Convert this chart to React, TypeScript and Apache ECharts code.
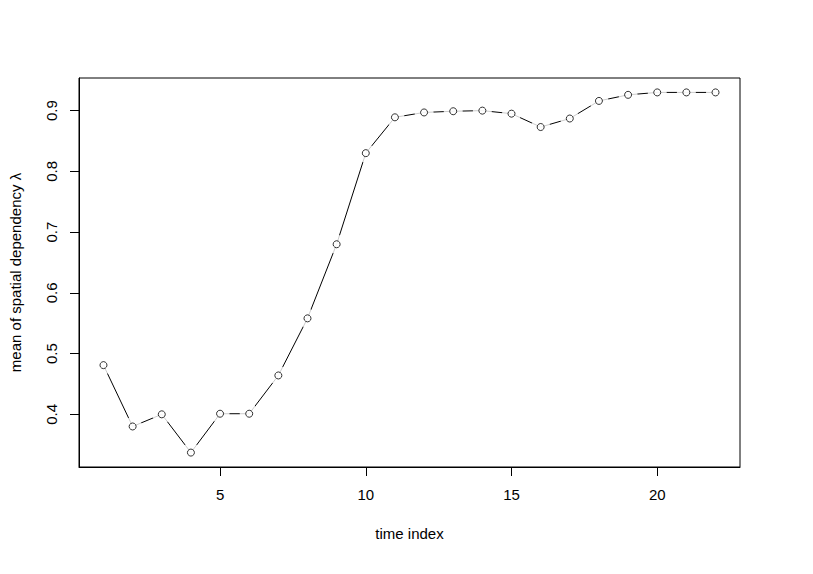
import React, { useEffect, useRef } from "react";
import * as echarts from "echarts";

const timeIndex = [1, 2, 3, 4, 5, 6, 7, 8, 9, 10, 11, 12, 13, 14, 15, 16, 17, 18, 19, 20, 21, 22];
const lambdaMean = [0.481, 0.380, 0.400, 0.337, 0.401, 0.401, 0.464, 0.558, 0.680, 0.830, 0.889, 0.897, 0.899, 0.900, 0.895, 0.873, 0.887, 0.916, 0.926, 0.930, 0.930, 0.930];
const xTicks = [5, 10, 15, 20];
const yTicks = [0.4, 0.5, 0.6, 0.7, 0.8, 0.9];

const FONT = "'Liberation Sans', Arial, sans-serif";

export default function App() {
  const ref = useRef<HTMLDivElement>(null);
  useEffect(() => {
    if (!ref.current) return;
    const chart = echarts.init(ref.current, null, { renderer: "svg" });
    const pts = timeIndex.map((t, i) => [t, lambdaMean[i]]);
    const xr = timeIndex[timeIndex.length - 1] - timeIndex[0];
    const ymin = Math.min(...lambdaMean);
    const ymax = Math.max(...lambdaMean);
    const yr = ymax - ymin;
    chart.setOption({
      animation: false,
      backgroundColor: "#ffffff",
      grid: {
        left: 78,
        right: 73,
        top: 78,
        bottom: 107,
        show: true,
        borderColor: "#000",
        borderWidth: 1,
        backgroundColor: "transparent",
      },
      xAxis: {
        type: "value",
        min: timeIndex[0] - 0.04 * xr,
        max: timeIndex[timeIndex.length - 1] + 0.04 * xr,
        name: "time index",
        nameLocation: "middle",
        nameGap: 59,
        nameTextStyle: { fontFamily: FONT, fontSize: 15, color: "#000", verticalAlign: "top" },
        axisLine: { show: true, onZero: false, lineStyle: { color: "#000", width: 1 } },
        axisTick: { show: true, length: 9, customValues: xTicks, lineStyle: { color: "#000", width: 1 } },
        axisLabel: { show: true, customValues: xTicks, margin: 20, fontFamily: FONT, fontSize: 15, color: "#000" },
        splitLine: { show: false },
      },
      yAxis: {
        type: "value",
        min: ymin - 0.04 * yr,
        max: ymax + 0.04 * yr,
        name: "mean of spatial dependency λ",
        nameLocation: "middle",
        nameGap: 56,
        nameRotate: 90,
        nameTextStyle: { fontFamily: FONT, fontSize: 15, color: "#000" },
        axisLine: { show: true, onZero: false, lineStyle: { color: "#000", width: 1 } },
        axisTick: { show: true, length: 9, customValues: yTicks, lineStyle: { color: "#000", width: 1 } },
        axisLabel: {
          show: true,
          customValues: yTicks,
          rotate: 90,
          margin: 20,
          fontFamily: FONT,
          fontSize: 15,
          color: "#000",
          formatter: (v: number) => v.toFixed(1),
        },
        splitLine: { show: false },
      },
      series: [
        {
          type: "line",
          data: pts,
          showSymbol: false,
          symbol: "none",
          lineStyle: { color: "#000", width: 1 },
          z: 2,
        },
        {
          type: "scatter",
          data: pts,
          symbol: "circle",
          symbolSize: 19,
          itemStyle: { color: "#fff", borderWidth: 0 },
          z: 3,
          silent: true,
        },
        {
          type: "scatter",
          data: pts,
          symbol: "circle",
          symbolSize: 7,
          itemStyle: { color: "#fff", borderColor: "#000", borderWidth: 1 },
          z: 4,
        },
      ],
    });
    return () => chart.dispose();
  }, []);
  return (
    <div
      ref={ref}
      style={{ position: "absolute", left: 0, top: 0, width: 813, height: 574, background: "#fff" }}
    />
  );
}
